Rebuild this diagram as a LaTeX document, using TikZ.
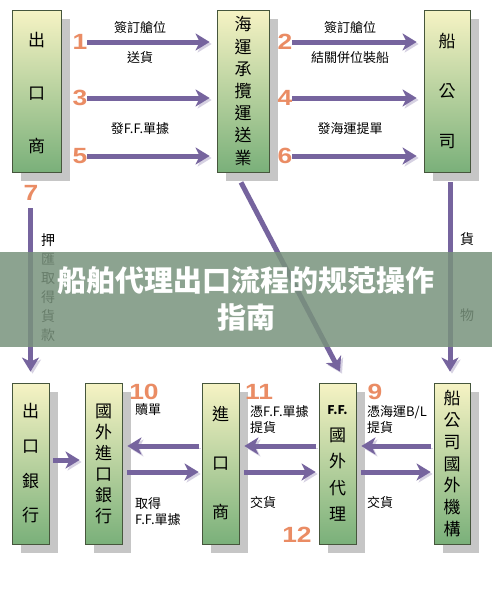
\documentclass[tikz,border=0pt]{standalone}
\usepackage{fontspec}
\setmainfont{Noto Sans CJK TC}
\newfontfamily\scfont{Noto Sans CJK SC}
\newfontfamily\numfont[FakeStretch=1.2]{Liberation Sans}
\usetikzlibrary{arrows.meta,calc,backgrounds}

\definecolor{boxtop}{RGB}{246,243,196}
\definecolor{boxbot}{RGB}{122,176,122}
\definecolor{boxline}{RGB}{70,86,60}
\definecolor{shadowgray}{RGB}{198,198,198}
\definecolor{flowc}{RGB}{118,100,158}
\definecolor{numc}{RGB}{234,140,100}
\definecolor{bannerc}{RGB}{121,147,125}

\begin{document}
\begin{tikzpicture}[x=1pt, y=-1pt,
    box/.style={draw=boxline, line width=0.8pt, top color=boxtop, bottom color=boxbot,
      minimum height=162pt, inner sep=0pt, align=center,
      font=\fontsize{17}{#1}\selectfont},
    flow/.style={line width=5pt, draw=flowc, -{Stealth[length=14pt,width=17pt,inset=4pt]},
      preaction={draw=flowc!30, transform canvas={xshift=2pt,yshift=-2pt}}},
    num/.style={text=numc, inner sep=0pt, font=\numfont\bfseries\fontsize{22}{22}\selectfont},
    lbl/.style={inner sep=0pt, align=left, font=\fontsize{13}{16}\selectfont}]
  \useasboundingbox (0,0) rectangle (492,600);

  % Top row
  \node[box=53, minimum width=49pt] (exp) at (36.5,91) {\mbox{}\\[-35pt]出\\口\\商};
  \node[box=22.2, minimum width=52pt] (fwd) at (243,91) {海\\運\\承\\攬\\運\\送\\業};
  \node[box=50, minimum width=46pt] (ship) at (447,91) {船\\公\\司};

  % Bottom row
  \node[box=34.7, minimum width=37pt, minimum height=161pt] (bank) at (30.5,463.5) {出\\口\\銀\\行};
  \node[box=21, minimum width=37pt, minimum height=161pt] (ibank) at (103.5,463.5) {國\\外\\進\\口\\銀\\行};
  \node[box=49, minimum width=37pt, minimum height=161pt] (imp) at (220.5,463.5) {進\\口\\商};
  \node[box=26.5, minimum width=37pt, minimum height=161pt] (ff) at (337.5,463.5)
    {{\fontsize{12}{12}\selectfont\bfseries F.F.}\\國\\外\\代\\理};
  \node[box=21.8, minimum width=36pt, minimum height=161pt] (shipo) at (452,463.5) {船\\公\\司\\國\\外\\機\\構};

  % Shadows behind the boxes
  \begin{scope}[on background layer]
    \fill[white] (0,0) rectangle (492,600);
    \foreach \b in {exp, fwd, ship, bank, ibank, imp, ff, shipo}
      \fill[shadowgray] ($(\b.north west)+(9,9)$) rectangle ($(\b.south east)+(9,9)$);
  \end{scope}

  % Steps 1-6
  \foreach \yy/\n/\m in {42/1/2, 98/3/4, 156/5/6}{
    \node[num] (n\n) at (80,\yy) {\n};
    \node[num] (n\m) at (285,\yy) {\m};
    \draw[flow] ($(exp.east |- 0,\yy)+(26,0)$) -- ($(fwd.west |- 0,\yy)+(-7,0)$);
    \draw[flow] ($(fwd.east |- 0,\yy)+(23,0)$) -- ($(ship.west |- 0,\yy)+(-7,0)$);
  }
  \node[lbl] (t1) at (140,28) {簽訂艙位};
  \node[lbl] (t2) at (140,58) {送貨};
  \node[lbl] (t3) at (140,129) {發F.F.單據};
  \node[lbl] (t4) at (350,28) {簽訂艙位};
  \node[lbl] (t5) at (350,58) {結關併位裝船};
  \node[lbl] (t6) at (350,129) {發海運提單};

  % Step 7 and the goods
  \node[num] (n7) at (31,193) {7};
  \draw[flow] ($(bank.north |- exp.south)+(0,36)$) -- ($(bank.north)+(0,-11)$);
  \node[lbl, align=center, font=\fontsize{14}{19}\selectfont] (pay) at (48,287.5) {押\\匯\\取\\得\\貨\\款};
  \draw[flow] ($(fwd.south)+(-2,10)$) -- ($(ff.north)+(2.5,-11)$);
  \draw[flow] ($(ship.south)+(3,10)$) -- ($(ship.south |- shipo.north)+(3,-11)$);
  \node[lbl, font=\fontsize{14}{14}\selectfont] (goods1) at (467,239) {貨};
  \node[lbl, font=\fontsize{14}{14}\selectfont] (goods2) at (467,315) {物};

  % Bottom flows
  \draw[flow] ($(bank.east |- 0,460)+(4,0)$) -- ($(ibank.west |- 0,460)+(-5,0)$);
  \foreach \a/\b in {ibank/imp, imp/ff, ff/shipo}{
    \draw[flow] ($(\b.west |- 0,446)+(-3,0)$) -- ($(\a.east |- 0,446)+(5,0)$);
    \draw[flow] ($(\a.east |- 0,472)+(5,0)$) -- ($(\b.west |- 0,472)+(-3,0)$);
  }
  \node[num] (n10) at (144,392) {10};
  \node[num] (n11) at (259,392) {11};
  \node[num] (n9) at (375,392) {9};
  \node[num] (n12) at (297,535) {12};
  \node[lbl, anchor=west] (b1) at (135,410) {贖單};
  \node[lbl, anchor=west] (b2) at (135,511.5) {取得\\F.F.單據};
  \node[lbl, anchor=west] (b3) at (250,419.5) {憑F.F.單據\\提貨};
  \node[lbl, anchor=west] (b4) at (250,503) {交貨};
  \node[lbl, anchor=west] (b5) at (367,419.5) {憑海運B/L\\提貨};
  \node[lbl, anchor=west] (b6) at (367,503) {交貨};

  % Title banner
  \fill[bannerc, opacity=0.85] (0,252) rectangle (492,347);
  \node[text=white, align=center, inner sep=0pt, font=\scfont\bfseries\fontsize{29}{37}\selectfont]
    (title) at (246,298.5) {船舶代理出口流程的规范操作\\指南};
\end{tikzpicture}
\end{document}
